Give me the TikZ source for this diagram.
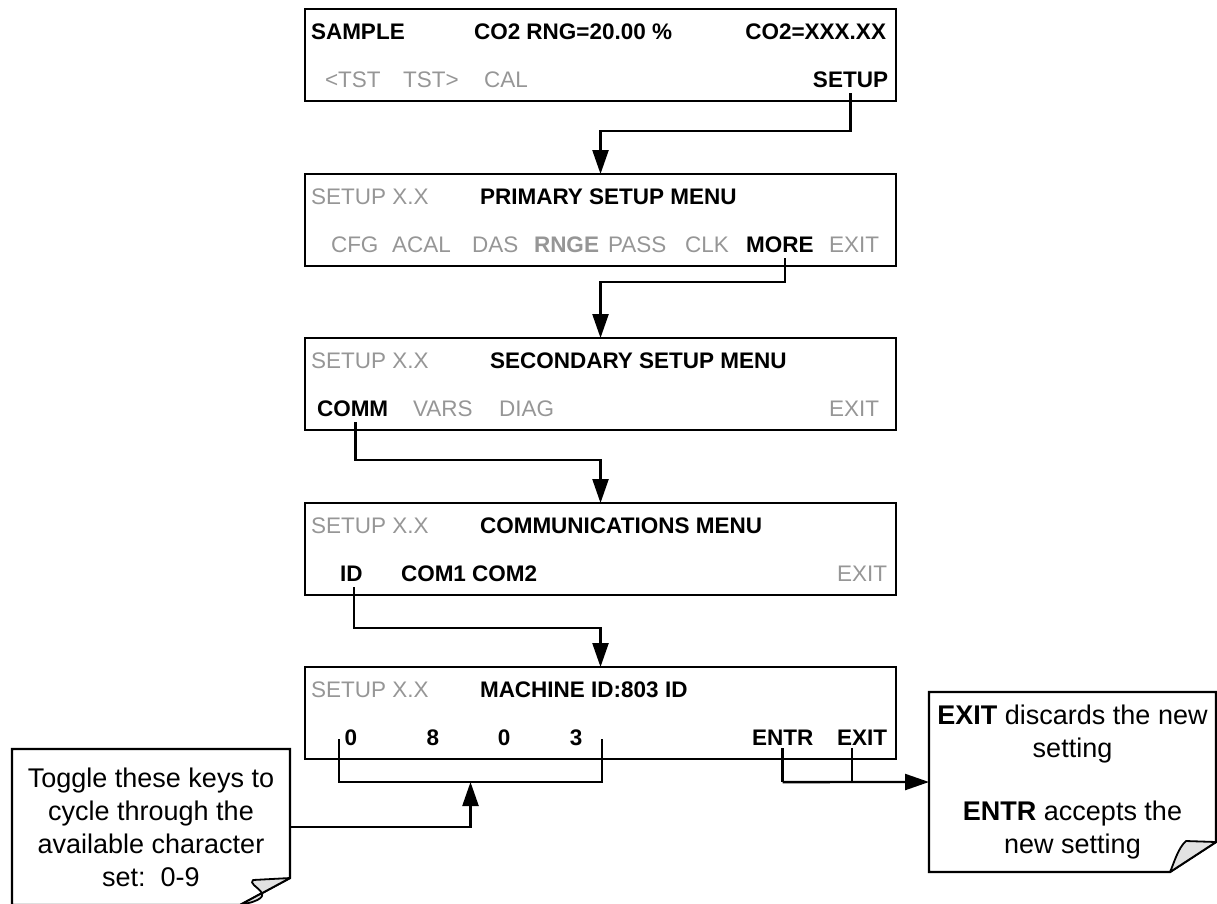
\documentclass[tikz,border=0pt]{standalone}
\usepackage{fontspec}
\setmainfont{Liberation Sans}
\usetikzlibrary{arrows.meta,calc}
\definecolor{keygray}{RGB}{150,150,150}
\definecolor{foldgray}{RGB}{226,226,226}
\begin{document}
\begin{tikzpicture}[x=1pt,y=-1pt,
  screen/.style={draw, line width=2.6pt, minimum width=591pt, minimum height=92pt, inner sep=0pt, outer sep=0pt, anchor=north west},
  key/.style={inner sep=0pt, outer sep=0pt, font=\fontsize{22.5}{27}\selectfont, text height=16.1pt, text depth=0pt},
  bkey/.style={key, font=\fontsize{22.5}{27}\selectfont\bfseries},
  gkey/.style={key, text=keygray},
  gbkey/.style={bkey, text=keygray},
  conn/.style={line width=2.4pt},
  arrow/.style={conn, -{Triangle[length=24pt,width=16pt]}},
  note/.style={inner sep=0pt, outer sep=0pt, align=center, font=\fontsize{27}{33}\selectfont},
  noteline/.style={line width=2.2pt},
  flap/.style={fill=foldgray, line width=1.8pt, line join=round},
]
\useasboundingbox (0,0) rectangle (1217,903);

% screens
\node[screen] (b1) at (305,9) {};
\node[screen] (b2) at (305,174) {};
\node[screen] (b3) at (305,338) {};
\node[screen] (b4) at (305,503) {};
\node[screen] (b5) at (305,667) {};

% screen 1
\node[bkey, anchor=west] (s1t1) at (311,31) {SAMPLE};
\node[bkey, anchor=west] (s1t2) at (474,31) {CO2 RNG=20.00 \%};
\node[bkey, anchor=east] (s1t3) at (886,31) {CO2=XXX.XX};
\node[gkey, anchor=west] (k1a) at (325,79) {<TST};
\node[gkey, anchor=west] (k1b) at (403,79) {TST>};
\node[gkey, anchor=west] (k1c) at (484,79) {CAL};
\node[bkey, anchor=east] (ksetup) at (888,79) {SETUP};

% screen 2
\node[gkey, anchor=west] (s2t1) at (311,196) {SETUP X.X};
\node[bkey, anchor=west] (s2t2) at (480,196) {PRIMARY SETUP MENU};
\node[gkey, anchor=west] (k2a) at (331,244) {CFG};
\node[gkey, anchor=west] (k2b) at (392,244) {ACAL};
\node[gkey, anchor=west] (k2c) at (472,244) {DAS};
\node[gbkey, anchor=west] (k2d) at (534,244) {RNGE};
\node[gkey, anchor=west] (k2e) at (608,244) {PASS};
\node[gkey, anchor=west] (k2f) at (685,244) {CLK};
\node[bkey, anchor=west] (kmore) at (746,244) {MORE};
\node[gkey, anchor=east] (k2h) at (879,244) {EXIT};

% screen 3
\node[gkey, anchor=west] (s3t1) at (311,360) {SETUP X.X};
\node[bkey, anchor=west] (s3t2) at (490,360) {SECONDARY SETUP MENU};
\node[bkey, anchor=west] (kcomm) at (317,408) {COMM};
\node[gkey, anchor=west] (k3b) at (413,408) {VARS};
\node[gkey, anchor=west] (k3c) at (499,408) {DIAG};
\node[gkey, anchor=east] (k3d) at (879,408) {EXIT};

% screen 4
\node[gkey, anchor=west] (s4t1) at (311,525) {SETUP X.X};
\node[bkey, anchor=west] (s4t2) at (480,525) {COMMUNICATIONS MENU};
\node[bkey, anchor=west] (kid) at (340,573) {ID};
\node[bkey, anchor=west] (k4b) at (401,573) {COM1 COM2};
\node[gkey, anchor=east] (k4c) at (887,573) {EXIT};

% screen 5
\node[gkey, anchor=west] (s5t1) at (311,689) {SETUP X.X};
\node[bkey, anchor=west] (s5t2) at (480,689) {MACHINE ID:803 ID};
\node[bkey] (d1) at (351,737) {0};
\node[bkey] (d2) at (433,737) {8};
\node[bkey] (d3) at (504,737) {0};
\node[bkey] (d4) at (576,737) {3};
\node[bkey, anchor=west] (kentr) at (752,737) {ENTR};
\node[bkey, anchor=east] (kexit) at (887,737) {EXIT};

% notes
\node[note, minimum width=278pt, minimum height=156pt] (noteL) at (151,827)
  {Toggle these keys to\\cycle through the\\available character\\set:\ \ 0-9};
\draw[noteline] (noteL.south west) -- (noteL.north west) -- (noteL.north east)
  -- ([yshift=27pt]noteL.south east) -- ([xshift=-50pt]noteL.south east) -- cycle;
\draw[flap] ([yshift=27pt]noteL.south east) -- ++(-37,2)
  .. controls ++(-8,6) and ([xshift=-4pt,yshift=9pt]noteL.south east) .. ([xshift=-50pt]noteL.south east) -- cycle;

\node[note, minimum width=287pt, minimum height=180pt] (noteR) at (1072.5,782)
  {\textbf{EXIT} discards the new\\setting\\[30pt]\textbf{ENTR} accepts the\\new setting};
\draw[noteline] (noteR.south west) -- (noteR.north west) -- (noteR.north east)
  -- ([yshift=30pt]noteR.south east) -- ([xshift=-46pt]noteR.south east) -- cycle;
\draw[flap] ([yshift=30pt]noteR.south east) -- ++(-30,-1)
  .. controls ++(-8,7) and ([xshift=-42pt,yshift=9pt]noteR.south east) .. ([xshift=-46pt]noteR.south east) -- cycle;

% menu connectors
\draw[arrow] ([yshift=-6pt]ksetup.south) |- ([yshift=43pt]b2.north) -- (b2.north);
\draw[arrow] ([xshift=5pt,yshift=-6pt]kmore.south) |- ([yshift=56pt]b3.north) -- (b3.north);
\draw[arrow] ([xshift=3pt,yshift=-6pt]kcomm.south) |- ([yshift=43pt]b4.north) -- (b4.north);
\draw[arrow] ([xshift=3pt,yshift=-6pt]kid.south) |- ([yshift=39pt]b5.north) -- (b5.north);

% digit bracket
\path ([xshift=-6pt,yshift=-2pt]d1.west) coordinate (brL);
\path ([xshift=20pt,yshift=-2pt]d4.east) coordinate (brR);
\coordinate (brA) at ($(brL)!0.5!(brR)+(0,43)$);
\draw[conn] (brL) |- (brA) -| (brR);
\draw[arrow] (noteL.east) -| (brA);

% ENTR / EXIT
\draw[conn] ([yshift=-3pt]kentr.south) -- ++(0,34) coordinate (eB);
\path ([xshift=-10pt,yshift=-3pt]kexit.south) coordinate (xA);
\draw[conn] (xA) -- (xA |- eB);
\draw[arrow] (eB) -- (noteR.west);
\end{tikzpicture}
\end{document}
